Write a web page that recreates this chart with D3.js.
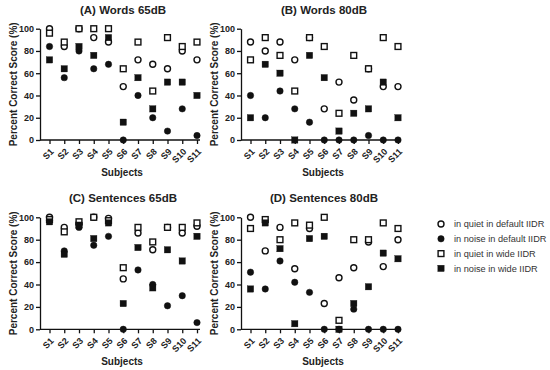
<!DOCTYPE html>
<html>
<head>
<meta charset="utf-8">
<script src="https://cdn.jsdelivr.net/npm/d3@7"></script>
<style>
    body { margin: 0; background: #fff; }
    svg text { font-family: "Liberation Sans", Arial, sans-serif; fill: #222; }
    .axis path, .axis line { stroke: #111; stroke-width: 1.3px; }
    .axis text { font-size: 9px; font-weight: bold; }
    .title { font-size: 11.5px; font-weight: bold; }
    .label { font-size: 10px; font-weight: bold; }
    .legend text { font-size: 9.2px; fill: #333; }
</style>
</head>
<body>
<div id="chart"></div>
<script>
// subjects and y ticks
var subjects = ["S1", "S2", "S3", "S4", "S5", "S6", "S7", "S8", "S9", "S10", "S11"];
var yTicks = [0, 20, 40, 60, 80, 100];
var panelTitles = ["(A)  Words 65dB", "(B)  Words 80dB", "(C)  Sentences 65dB", "(D)  Sentences 80dB"];
var seriesNames = ["in quiet in default IIDR", "in noise in default IIDR", "in quiet in wide IIDR", "in noise in wide IIDR"];

// (A) words 65dB
var words65QuietDefault = [100, 84, 100, 92, 88, 48, 72, 68, 64, 80, 72];
var words65NoiseDefault = [84, 56, 80, 64, 68, 0, 40, 20, 8, 28, 4];
var words65QuietWide    = [96, 88, 100, 100, 100, 64, 88, 44, 92, 84, 88];
var words65NoiseWide    = [72, 64, 84, 76, 92, 16, 56, 28, 52, 52, 40];

// (B) words 80dB
var words80QuietDefault = [88, 80, 88, 72, 92, 28, 52, 36, 64, 48, 48];
var words80NoiseDefault = [40, 20, 44, 28, 16, 0, 0, 0, 4, 0, 0];
var words80QuietWide    = [72, 92, 76, 44, 92, 84, 24, 76, 64, 92, 84];
var words80NoiseWide    = [20, 68, 60, 0, 76, 56, 8, 24, 28, 52, 20];

// (C) sentences 65dB
var sent65QuietDefault = [100, 91, 94, 100, 99, 45, 86, 71, 91, 86, 92];
var sent65NoiseDefault = [97, 70, 91, 75, 83, 0, 53, 40, 21, 30, 6];
var sent65QuietWide    = [98, 87, 96, 100, 97, 55, 91, 78, 91, 91, 95];
var sent65NoiseWide    = [96, 67, 93, 81, 95, 23, 73, 37, 71, 61, 83];

// (D) sentences 80dB
var sent80QuietDefault = [100, 70, 91, 54, 90, 23, 46, 55, 78, 56, 80];
var sent80NoiseDefault = [51, 36, 61, 42, 33, 0, 0, 18, 0, 0, 0];
var sent80QuietWide    = [90, 98, 80, 95, 93, 100, 8, 80, 80, 95, 90];
var sent80NoiseWide    = [36, 95, 72, 5, 81, 83, 0, 23, 38, 68, 63];

var panels = [
    { title: panelTitles[0], ox: 40,  top: 28.7,  bottom: 140,   series: [words65QuietDefault, words65NoiseDefault, words65QuietWide, words65NoiseWide] },
    { title: panelTitles[1], ox: 241, top: 28.7,  bottom: 140,   series: [words80QuietDefault, words80NoiseDefault, words80QuietWide, words80NoiseWide] },
    { title: panelTitles[2], ox: 40,  top: 217.3, bottom: 329.3, series: [sent65QuietDefault, sent65NoiseDefault, sent65QuietWide, sent65NoiseWide] },
    { title: panelTitles[3], ox: 241, top: 217.3, bottom: 329.3, series: [sent80QuietDefault, sent80NoiseDefault, sent80QuietWide, sent80NoiseWide] }
];

// marker styles: open circle, filled circle, open square, filled square
var markers = [
    { shape: "circle", fill: "#fff" },
    { shape: "circle", fill: "#111" },
    { shape: "square", fill: "#fff" },
    { shape: "square", fill: "#111" }
];

var svg = d3.select("#chart").append("svg")
    .attr("width", 550)
    .attr("height", 370);

function drawMarker(sel, m, x, y) {
    if (m.shape === "circle") {
        sel.append("circle")
            .attr("cx", x).attr("cy", y)
            .attr("r", m.fill === "#fff" ? 3 : 3.2)
            .attr("fill", m.fill)
            .attr("stroke", "#111")
            .attr("stroke-width", m.fill === "#fff" ? 1.4 : 0.5);
    } else {
        var s = m.fill === "#fff" ? 5.8 : 6.4;
        sel.append("rect")
            .attr("x", x - s / 2).attr("y", y - s / 2)
            .attr("width", s).attr("height", s)
            .attr("fill", m.fill)
            .attr("stroke", "#111")
            .attr("stroke-width", m.fill === "#fff" ? 1.4 : 0.3);
    }
}

panels.forEach(function (p) {
    var g = svg.append("g");

    var x = d3.scalePoint()
        .domain(subjects)
        .range([p.ox + 9.5, p.ox + 157]);

    var y = d3.scaleLinear()
        .domain([0, 100])
        .range([p.bottom, p.top]);

    // y axis
    g.append("g")
        .attr("class", "axis")
        .attr("transform", "translate(" + p.ox + ",0)")
        .call(d3.axisLeft(y).tickValues(yTicks).tickSize(4).tickSizeOuter(0).tickPadding(2));

    // x axis
    var xa = g.append("g")
        .attr("class", "axis")
        .attr("transform", "translate(0," + p.bottom + ")")
        .call(d3.axisBottom(x).tickSize(4).tickSizeOuter(0));
    xa.select(".domain").remove();
    xa.append("line")
        .attr("x1", p.ox).attr("x2", p.ox + 160)
        .attr("y1", 0).attr("y2", 0);
    xa.selectAll("text")
        .attr("x", 0).attr("y", 0)
        .attr("dy", "0.35em")
        .attr("text-anchor", "end")
        .attr("transform", "translate(2,10) rotate(-45)");

    // titles and labels
    g.append("text")
        .attr("class", "title")
        .attr("x", p.ox + 83)
        .attr("y", p.top - 15)
        .attr("text-anchor", "middle")
        .text(p.title);

    g.append("text")
        .attr("class", "label")
        .attr("x", p.ox + 82)
        .attr("y", p.bottom + 36)
        .attr("text-anchor", "middle")
        .text("Subjects");

    g.append("text")
        .attr("class", "label")
        .attr("transform", "translate(" + (p.ox - 27) + "," + ((p.top + p.bottom) / 2) + ") rotate(-90)")
        .attr("text-anchor", "middle")
        .attr("dy", "0.35em")
        .text("Percent Correct Score (%)");

    // points
    p.series.forEach(function (vals, si) {
        var sg = g.append("g");
        vals.forEach(function (v, i) {
            drawMarker(sg, markers[si], x(subjects[i]), y(v));
        });
    });
});

// legend
var legend = svg.append("g").attr("class", "legend");
seriesNames.forEach(function (name, i) {
    var ly = 224 + i * 14.8;
    drawMarker(legend, markers[i], 441, ly);
    legend.append("text")
        .attr("x", 454)
        .attr("y", ly)
        .attr("dy", "0.35em")
        .text(name);
});
</script>
</body>
</html>
